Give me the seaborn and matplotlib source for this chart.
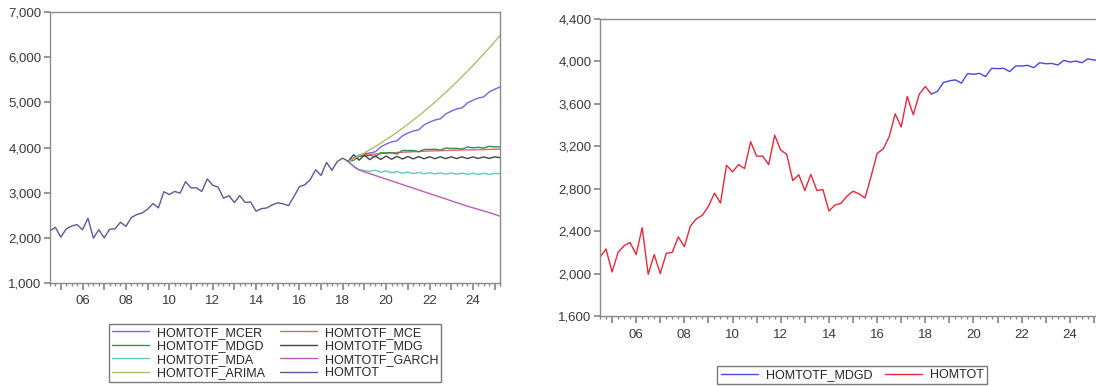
import pandas as pd
import matplotlib
matplotlib.use("Agg")
import matplotlib.pyplot as plt
from matplotlib.ticker import MultipleLocator, FuncFormatter
import seaborn as sns

# quarterly samples
hist_q = pd.period_range("2004Q3", "2018Q2", freq="Q")
fc_q = pd.period_range("2018Q2", "2025Q2", freq="Q")

homtot = [2155, 2232, 2015, 2200, 2262, 2293, 2179, 2433, 1993, 2179,
          2000, 2191, 2200, 2346, 2253, 2448, 2516, 2550, 2634, 2758,
          2665, 3021, 2959, 3027, 2990, 3243, 3107, 3107, 3027, 3304,
          3164, 3124, 2876, 2932, 2783, 2935, 2783, 2792, 2590, 2646,
          2662, 2730, 2776, 2752, 2713, 2916, 3133, 3174, 3289, 3506,
          3382, 3670, 3497, 3692, 3764, 3692]

mcer = [3692, 3760, 3830, 3860, 3880, 3905, 4015, 4075, 4123, 4148,
        4258, 4318, 4366, 4391, 4501, 4561, 4609, 4634, 4744, 4804,
        4852, 4877, 4987, 5047, 5095, 5120, 5230, 5290, 5338]
mce = [3692, 3770, 3820, 3835, 3845, 3855, 3865, 3873, 3881, 3888,
       3895, 3901, 3907, 3912, 3917, 3922, 3926, 3930, 3934, 3938,
       3941, 3944, 3947, 3950, 3953, 3955, 3958, 3960, 3962]
mdgd = [3692, 3717, 3801, 3817, 3826, 3795, 3885, 3879, 3888, 3857,
        3935, 3932, 3935, 3904, 3957, 3957, 3963, 3941, 3988, 3978,
        3981, 3966, 4010, 3994, 4003, 3988, 4025, 4013, 4015]
mdg = [3692, 3840, 3720, 3830, 3730, 3815, 3735, 3810, 3740, 3805,
       3745, 3800, 3748, 3798, 3750, 3796, 3752, 3795, 3754, 3794,
       3755, 3793, 3756, 3792, 3757, 3792, 3758, 3791, 3777]
mda = [3692, 3590, 3510, 3490, 3470, 3500, 3455, 3480, 3440, 3465,
       3430, 3455, 3422, 3448, 3418, 3442, 3414, 3438, 3410, 3435,
       3408, 3432, 3406, 3430, 3405, 3428, 3404, 3427, 3420]
garch = [3692, 3580, 3500, 3460, 3420, 3380, 3340, 3300, 3260, 3220,
         3180, 3140, 3100, 3060, 3020, 2980, 2940, 2900, 2860, 2820,
         2780, 2740, 2700, 2665, 2630, 2595, 2560, 2520, 2480]
arima = [3692, 3752, 3815, 3881, 3950, 4022, 4097, 4175, 4255, 4338,
         4425, 4514, 4607, 4702, 4800, 4901, 5005, 5112, 5222, 5334,
         5450, 5569, 5690, 5814, 5942, 6072, 6205, 6341, 6480]


def to_year(periods):
    return periods.year + (periods.quarter - 1) / 4


hist = pd.DataFrame({"date": to_year(hist_q), "value": homtot})
fc = pd.DataFrame({"date": to_year(fc_q), "MCER": mcer, "MCE": mce,
                   "MDGD": mdgd, "MDG": mdg, "MDA": mda,
                   "GARCH": garch, "ARIMA": arima})

colors = {"MCER": "#6a6ae8", "MCE": "#ea6464", "MDGD": "#2f8f55",
          "MDG": "#444444", "MDA": "#62c9bc", "GARCH": "#b860b8",
          "ARIMA": "#b8b872"}

sns.set_theme(style="ticks")
plt.rcParams["font.family"] = ["Liberation Sans", "DejaVu Sans"]

fig = plt.figure(figsize=(10.96, 3.86), dpi=100)
ax1 = fig.add_axes([50 / 1096, 1 - 283 / 386, 450 / 1096, 271 / 386])
ax2 = fig.add_axes([600 / 1096, 1 - 316 / 386, 500 / 1096, 297 / 386])

# left: all forecasts
for key in ["MCER", "MCE", "MDGD", "MDG", "MDA", "GARCH", "ARIMA"]:
    sns.lineplot(x=fc["date"], y=fc[key], ax=ax1, color=colors[key],
                 linewidth=1, label="HOMTOTF_" + key, legend=False)
sns.lineplot(x=hist["date"], y=hist["value"], ax=ax1, color="#5a5a94",
             linewidth=1, label="HOMTOT", legend=False)
ax1.get_lines()[-1].set_color("#5a5a94")

# right: MDGD forecast and actual
sns.lineplot(x=fc["date"], y=fc["MDGD"], ax=ax2, color="#4848e0",
             linewidth=1, label="HOMTOTF_MDGD", legend=False)
sns.lineplot(x=hist["date"], y=hist["value"], ax=ax2, color="#e8283a",
             linewidth=1, label="HOMTOT", legend=False)

start = hist["date"].iloc[0]
end = fc["date"].iloc[-1]
yfmt = FuncFormatter(lambda v, p: f"{v:,.0f}")
xfmt = FuncFormatter(lambda v, p: f"{int(round(v)) % 100:02d}" if int(round(v)) % 2 == 0 else "")

for ax, lo, hi, step in [(ax1, 1000, 7000, 1000), (ax2, 1600, 4400, 400)]:
    ax.set_xlim(start, end)
    ax.set_ylim(lo, hi)
    ax.yaxis.set_major_locator(MultipleLocator(step))
    ax.yaxis.set_major_formatter(yfmt)
    ax.xaxis.set_major_locator(MultipleLocator(1))
    ax.xaxis.set_minor_locator(MultipleLocator(0.25))
    ax.xaxis.set_major_formatter(xfmt)
    ax.set_xlabel("")
    ax.set_ylabel("")
    for s in ax.spines.values():
        s.set_color("#8a8a8a")
        s.set_linewidth(1)
    ax.tick_params(axis="both", which="both", color="#8a8a8a",
                   labelcolor="#3a3a3a", labelsize=9.5, direction="out")
    ax.tick_params(axis="x", which="major", length=5, pad=4)
    ax.tick_params(axis="x", which="minor", length=2.5)
    ax.tick_params(axis="y", which="major", length=4, pad=2)

h1, l1 = ax1.get_legend_handles_labels()
order = [0, 2, 4, 6, 1, 3, 5, 7]
fig.legend([h1[i] for i in order], [l1[i] for i in order], ncol=2,
           loc="center", bbox_to_anchor=(275 / 1096, 1 - 353 / 386),
           fontsize=9, frameon=True, fancybox=False, edgecolor="#7a7a7a",
           framealpha=1, borderpad=0.25, labelspacing=0.12,
           handlelength=3.0, handletextpad=0.6, columnspacing=1.2)

h2, l2 = ax2.get_legend_handles_labels()
fig.legend(h2, l2, ncol=2, loc="center",
           bbox_to_anchor=(852 / 1096, 1 - 375 / 386),
           fontsize=9, frameon=True, fancybox=False, edgecolor="#7a7a7a",
           framealpha=1, borderpad=0.25, handlelength=3.0,
           handletextpad=0.6, columnspacing=1.0)

fig.savefig("out.png", dpi=100)
